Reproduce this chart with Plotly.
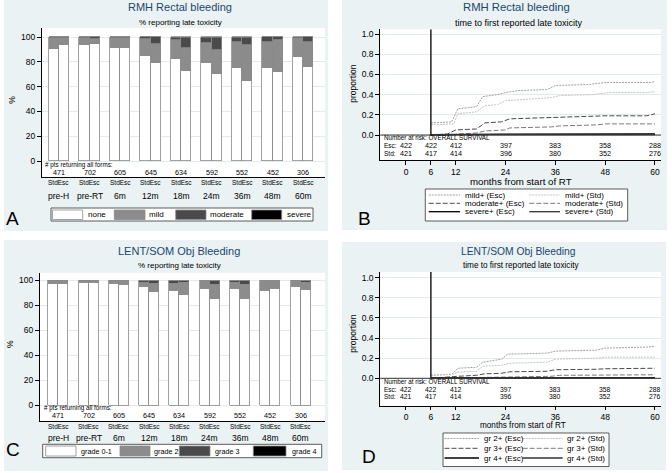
import plotly.graph_objects as go

W, H = 672, 473
FONT = "Liberation Sans, Arial, sans-serif"
NAVY = "#1a476f"
PANEL_BG = "#eaf2f3"
GRID = "#e2eaed"
OUTLINE = "#8a8a8a"

# ---------------- data ----------------
groups = ["pre-H", "pre-RT", "6m", "12m", "18m", "24m", "36m", "48m", "60m"]
n_forms = [471, 702, 605, 645, 634, 592, 552, 452, 306]

# Panel A: RMH rectal bleeding (% of patients), Std arm / Esc arm
rmh_std_none = [90.5, 93.3, 91.2, 84.5, 82.4, 79.3, 74.7, 74.7, 83.6]
rmh_std_mild = [8.5, 5.8, 8.3, 13.9, 14.9, 16.1, 21.5, 21.5, 15.3]
rmh_std_moderate = [1.0, 0.9, 0.5, 1.6, 2.0, 4.1, 3.3, 3.8, 0.6]
rmh_std_severe = [0.0, 0.0, 0.0, 0.0, 0.7, 0.5, 0.5, 0.0, 0.5]
rmh_esc_none = [93.3, 94.7, 91.2, 78.7, 72.5, 70.4, 64.8, 71.5, 76.0]
rmh_esc_mild = [5.7, 3.8, 8.3, 16.0, 18.4, 19.1, 28.7, 26.1, 20.2]
rmh_esc_moderate = [1.0, 1.5, 0.5, 5.3, 8.1, 9.5, 5.7, 2.4, 3.8]
rmh_esc_severe = [0.0, 0.0, 0.0, 0.0, 1.0, 1.0, 0.8, 0.0, 0.0]

# Panel C: LENT/SOM objective bleeding
ls_std_g01 = [97.6, 98.1, 97.3, 94.9, 91.7, 93.6, 93.6, 91.7, 94.9]
ls_std_g2 = [2.4, 1.9, 2.7, 3.2, 5.9, 6.4, 4.5, 8.3, 5.1]
ls_std_g3 = [0.0, 0.0, 0.0, 1.9, 2.4, 0.0, 1.9, 0.0, 0.0]
ls_std_g4 = [0.0, 0.0, 0.0, 0.0, 0.0, 0.0, 0.0, 0.0, 0.0]
ls_esc_g01 = [97.6, 98.1, 96.5, 90.9, 88.2, 85.6, 85.6, 93.6, 92.8]
ls_esc_g2 = [2.4, 1.9, 3.0, 6.7, 9.9, 10.6, 10.6, 6.4, 5.3]
ls_esc_g3 = [0.0, 0.0, 0.5, 2.4, 1.9, 3.8, 3.8, 0.0, 1.9]
ls_esc_g4 = [0.0, 0.0, 0.0, 0.0, 0.0, 0.0, 0.0, 0.0, 0.0]

# Panel B: cumulative proportion, RMH rectal bleeding
b_mild_esc_t = [6, 11, 12.5, 17, 18.5, 22, 24, 27, 34, 36, 44, 48, 59, 60]
b_mild_esc_v = [0.12, 0.13, 0.26, 0.28, 0.38, 0.40, 0.42, 0.44, 0.45, 0.49, 0.50, 0.52, 0.52, 0.53]
b_mild_std_t = [6, 11.5, 12.5, 17, 19, 22, 24, 30, 35, 37, 45, 49, 58, 60]
b_mild_std_v = [0.10, 0.11, 0.21, 0.23, 0.29, 0.30, 0.34, 0.36, 0.37, 0.39, 0.40, 0.42, 0.42, 0.43]
b_mod_esc_t = [6, 10, 12, 17, 19, 23, 25, 33, 36, 48, 58, 60]
b_mod_esc_v = [0.0, 0.01, 0.05, 0.06, 0.12, 0.13, 0.16, 0.17, 0.18, 0.19, 0.19, 0.21]
b_mod_std_t = [6, 11, 12.5, 17, 19, 24, 25, 35, 37, 46, 48, 60]
b_mod_std_v = [0.0, 0.0, 0.01, 0.02, 0.04, 0.05, 0.07, 0.08, 0.09, 0.10, 0.11, 0.11]
b_sev_esc_t = [6, 24, 60]
b_sev_esc_v = [0.003, 0.008, 0.010]
b_sev_std_t = [6, 60]
b_sev_std_v = [0.003, 0.005]

# Panel D: cumulative proportion, LENT/SOM objective bleeding
d_g2_esc_t = [6, 11, 12.5, 17, 18.5, 23, 24.5, 34, 36, 46, 48, 58, 60]
d_g2_esc_v = [0.03, 0.04, 0.10, 0.11, 0.16, 0.19, 0.24, 0.25, 0.27, 0.28, 0.30, 0.31, 0.32]
d_g2_std_t = [6, 11, 12.5, 17, 18.5, 23, 25, 34, 36, 46, 48, 60]
d_g2_std_v = [0.03, 0.04, 0.06, 0.07, 0.12, 0.13, 0.15, 0.16, 0.19, 0.20, 0.21, 0.21]
d_g3_esc_t = [6, 11, 12.5, 17, 19, 23, 25, 34, 36, 46, 48, 60]
d_g3_esc_v = [0.0, 0.01, 0.02, 0.03, 0.045, 0.05, 0.065, 0.07, 0.085, 0.09, 0.095, 0.10]
d_g3_std_t = [6, 12, 18, 24, 35, 37, 48, 60]
d_g3_std_v = [0.0, 0.005, 0.01, 0.015, 0.02, 0.03, 0.035, 0.035]
d_g4_esc_t = [6, 60]
d_g4_esc_v = [0.003, 0.006]
d_g4_std_t = [6, 60]
d_g4_std_v = [0.003, 0.004]

risk_times = [0, 6, 12, 24, 36, 48, 60]
risk_esc = [422, 422, 412, 397, 383, 358, 288]
risk_std = [421, 417, 414, 396, 380, 352, 276]
time_ticks = [0, 6, 12, 24, 36, 48, 60]

# ---------------- helpers ----------------
def fx(p):
    return p / W


def fy(p):
    return 1 - p / H


fig = go.Figure()
shapes = []

BAR_W = 0.33
OFF = 0.165
idx = list(range(len(groups)))
bar_x = [i - OFF for i in idx] + [i + OFF for i in idx]


def add_bars(xa, ya, std_levels, esc_levels, colors, names):
    for s, e, c, n in zip(std_levels, esc_levels, colors, names):
        fig.add_trace(go.Bar(
            x=bar_x, y=list(s) + list(e), width=BAR_W, name=n,
            marker=dict(color=c, line=dict(color=OUTLINE, width=0.8)),
            xaxis=xa, yaxis=ya, showlegend=False))


def add_line(xa, ya, t, v, color, dash, width=1.0):
    fig.add_trace(go.Scatter(
        x=t, y=v, mode="lines", line=dict(color=color, dash=dash, width=width),
        xaxis=xa, yaxis=ya, showlegend=False))


def ann(text, x, y, size, xref="paper", yref="paper", xanchor="center",
        yanchor="middle", color="#000", angle=0):
    fig.add_annotation(text=text, x=x, y=y, xref=xref, yref=yref,
                       xanchor=xanchor, yanchor=yanchor, showarrow=False,
                       textangle=angle, borderpad=0,
                       font=dict(size=size, color=color, family=FONT))


def rect(x0, y0, x1, y1, fill, line_color=None, lw=0):
    shapes.append(dict(type="rect", xref="paper", yref="paper",
                       x0=fx(x0), x1=fx(x1), y0=fy(y1), y1=fy(y0),
                       fillcolor=fill, layer="below",
                       line=dict(color=line_color or fill, width=lw)))


def hline(x0, x1, y, color, dash, width=1.0):
    shapes.append(dict(type="line", xref="paper", yref="paper",
                       x0=fx(x0), x1=fx(x1), y0=fy(y), y1=fy(y),
                       line=dict(color=color, dash=dash, width=width)))


# panel backgrounds and plot areas
rect(4, 0, 328, 231, PANEL_BG)
rect(342, 0, 667, 230, PANEL_BG)
rect(4, 240, 328, 471, PANEL_BG)
rect(342, 242, 666, 470, PANEL_BG)
rect(42, 28, 325, 177, "white")
rect(380.3, 29.3, 661, 160, "white")
rect(40, 272.7, 325, 421, "white")
rect(380.3, 272, 661, 406, "white")

# ---------------- bars ----------------
bar_colors = ["#ffffff", "#8c8c8c", "#4a4a4a", "#000000"]
add_bars("x", "y",
         [rmh_std_none, rmh_std_mild, rmh_std_moderate, rmh_std_severe],
         [rmh_esc_none, rmh_esc_mild, rmh_esc_moderate, rmh_esc_severe],
         bar_colors, ["none", "mild", "moderate", "severe"])
add_bars("x3", "y3",
         [ls_std_g01, ls_std_g2, ls_std_g3, ls_std_g4],
         [ls_esc_g01, ls_esc_g2, ls_esc_g3, ls_esc_g4],
         bar_colors, ["grade 0-1", "grade 2", "grade 3", "grade 4"])

# ---------------- lines ----------------
styles = [
    ("#a0a0a0", "2px,1px"), ("#c4c4c4", "2px,1px"),
    ("#4a4a4a", "5px,2px"), ("#7a7a7a", "5px,2px"),
    ("#000000", "solid"), ("#333333", "solid"),
]
b_series = [(b_mild_esc_t, b_mild_esc_v), (b_mild_std_t, b_mild_std_v),
            (b_mod_esc_t, b_mod_esc_v), (b_mod_std_t, b_mod_std_v),
            (b_sev_esc_t, b_sev_esc_v), (b_sev_std_t, b_sev_std_v)]
d_series = [(d_g2_esc_t, d_g2_esc_v), (d_g2_std_t, d_g2_std_v),
            (d_g3_esc_t, d_g3_esc_v), (d_g3_std_t, d_g3_std_v),
            (d_g4_esc_t, d_g4_esc_v), (d_g4_std_t, d_g4_std_v)]
for (t, v), (c, d) in zip(b_series, styles):
    add_line("x2", "y2", t, v, c, d, 1.3 if d == "solid" else 1.0)
for (t, v), (c, d) in zip(d_series, styles):
    add_line("x4", "y4", t, v, c, d, 1.3 if d == "solid" else 1.0)

# baseline and start-of-follow-up line
for xa, ya, top in (("x2", "y2", 1.0465), ("x4", "y4", 1.056)):
    shapes.append(dict(type="line", xref=xa + " domain", yref=ya, x0=0, x1=1,
                       y0=0, y1=0, line=dict(color="#333", width=1)))
    shapes.append(dict(type="line", xref=xa, yref=ya, x0=6, x1=6, y0=0, y1=top,
                       line=dict(color="#111", width=1.4)))

# ---------------- axes ----------------
def bar_yaxis(dom, rng):
    return dict(domain=dom, range=rng, tickvals=[0, 20, 40, 60, 80, 100],
                ticks="outside", ticklen=4, tickcolor="#000", showline=True,
                linecolor="#000", linewidth=1, showgrid=True, gridcolor=GRID,
                zeroline=False, tickfont=dict(size=8.5, color="#000", family=FONT),
                fixedrange=True)


def bar_xaxis(dom, rng, anchor):
    return dict(domain=dom, range=rng, showticklabels=False, ticks="",
                showline=True, linecolor="#000", linewidth=1, showgrid=False,
                zeroline=False, anchor=anchor, fixedrange=True)


def km_yaxis(dom, rng, anchor):
    return dict(domain=dom, range=rng, tickvals=[0, 0.2, 0.4, 0.6, 0.8, 1.0],
                tickformat=".1f", ticks="outside", ticklen=4, tickcolor="#000",
                showline=True, linecolor="#000", linewidth=1, showgrid=True,
                gridcolor=GRID, zeroline=False, anchor=anchor,
                tickfont=dict(size=8.5, color="#000", family=FONT), fixedrange=True)


def km_xaxis(dom, rng, anchor, ticklen=4):
    return dict(domain=dom, range=rng, tickvals=time_ticks, ticks="outside",
                ticklen=ticklen, tickcolor="#000", showline=True, linecolor="#000",
                linewidth=1, showgrid=False, zeroline=False, anchor=anchor,
                tickfont=dict(size=8.5, color="#000", family=FONT), fixedrange=True)


fig.update_layout(
    xaxis=bar_xaxis([fx(42), fx(325)], [-0.557, 8.72], "y"),
    yaxis=bar_yaxis([fy(177), fy(28)], [-12.9, 107.3]),
    xaxis2=km_xaxis([fx(380.3), fx(661)], [-6.19, 61.45], "y2"),
    yaxis2=km_yaxis([fy(160), fy(29.3)], [-0.2475, 1.0465], "x2"),
    xaxis3=bar_xaxis([fx(40), fx(325)], [-0.6, 8.8], "y3"),
    yaxis3=dict(bar_yaxis([fy(421), fy(272.7)], [-12.56, 106.1]), anchor="x3"),
    xaxis4=km_xaxis([fx(380.3), fx(661)], [-6.19, 61.45], "y4", ticklen=3),
    yaxis4=km_yaxis([fy(406), fy(272)], [-0.275, 1.056], "x4"),
)

# ---------------- bar panel texts ----------------
def bar_panel_text(xa, y_pts, y_nums, y_se, y_grp, x_pts):
    ann("# pts returning all forms:", fx(x_pts), fy(y_pts), 6.3, xanchor="left")
    for i, (g, n) in enumerate(zip(groups, n_forms)):
        ann(str(n), i, fy(y_nums), 7.2, xref=xa)
        ann("StdEsc", i, fy(y_se), 6.5, xref=xa)
        ann(g, i, fy(y_grp), 8.5, xref=xa)


bar_panel_text("x", 164.5, 172, 183, 195.5, 44)
bar_panel_text("x3", 408.3, 415, 426.7, 437.5, 42.5)

# titles
ann("RMH Rectal bleeding", fx(180), fy(7.5), 11, color=NAVY)
ann("% reporting late toxicity", fx(180), fy(22.7), 8)
ann("RMH Rectal bleeding", fx(516), fy(7.5), 11.3, color=NAVY)
ann("time to first reported late toxicity", fx(519), fy(22.7), 9)
ann("LENT/SOM Obj Bleeding", fx(179), fy(251), 11, color=NAVY)
ann("% reporting late toxicity", fx(179), fy(265.3), 8)
ann("LENT/SOM Obj Bleeding", fx(518), fy(251), 10.3, color=NAVY)
ann("time to first reported late toxicity", fx(521), fy(265.3), 8.2)

# axis titles
ann("%", fx(11.7), fy(100), 8.5, angle=-90)
ann("%", fx(10), fy(344), 8.5, angle=-90)
ann("proportion", fx(352.7), fy(83), 8.5, angle=-90)
ann("proportion", fx(352.7), fy(333), 8.5, angle=-90)
ann("months from start of RT", fx(521), fy(181.7), 9.7)
ann("months from start of RT", fx(522.7), fy(425.5), 8.2)

# panel letters
ann("A", fx(12), fy(218), 19)
ann("B", fx(364), fy(218), 19)
ann("C", fx(13.3), fy(449.3), 19)
ann("D", fx(369.3), fy(456), 19)

# number-at-risk tables
def risk_table(xa, y_head, y_esc, y_std, num_size):
    ann("Number at risk: OVERALL SURVIVAL", fx(382.7), fy(y_head), 6.3, xanchor="left")
    ann("Esc:", fx(382.7), fy(y_esc), 6.5, xanchor="left")
    ann("Std:", fx(382.7), fy(y_std), 6.5, xanchor="left")
    for t, e, s in zip(risk_times, risk_esc, risk_std):
        ann(str(e), t, fy(y_esc), num_size, xref=xa)
        ann(str(s), t, fy(y_std), num_size, xref=xa)


risk_table("x2", 137.7, 146, 153.7, 7.2)
risk_table("x4", 381.7, 389.3, 396.3, 6.8)

# ---------------- legends ----------------
# A
rect(51, 208, 313, 221, "white", "#333", 0.8)
for (x0, x1, tx, lab), col in zip(
        [(52.5, 82.7, 87.3, "none"), (114.3, 145, 148.3, "mild"),
         (175.7, 206, 209.3, "moderate"), (251.7, 281.7, 286, "severe")], bar_colors):
    rect(x0, 210, x1, 219.5, col, OUTLINE, 0.8)
    ann(lab, fx(tx), fy(214.8), 8, xanchor="left")
# C
rect(42.7, 444.3, 321.7, 457.7, "white", "#333", 0.8)
for (x0, x1, tx, lab), col in zip(
        [(45.7, 76, 80, "grade 0-1"), (120, 150, 153.3, "grade 2"),
         (179.3, 210, 214, "grade 3"), (253.3, 286, 290.7, "grade 4")], bar_colors):
    rect(x0, 446, x1, 456, col, OUTLINE, 0.8)
    ann(lab, fx(tx), fy(451), 7.2, xanchor="left")

# B
rect(425.3, 189, 627.7, 221, "white", "#333", 0.8)
b_labels = ["mild+ (Esc)", "mild+ (Std)", "moderate+ (Esc)", "moderate+ (Std)",
            "severe+ (Esc)", "severe+ (Std)"]
rows_b = [195, 203.3, 211.7]
for k, (lab, (c, d)) in enumerate(zip(b_labels, styles)):
    r, col = divmod(k, 2)
    lx0, lx1, tx = ((428.7, 460, 464.3) if col == 0 else (529.3, 560, 564.3))
    hline(lx0, lx1, rows_b[r], c, d, 1.3 if d == "solid" else 1.0)
    ann(lab, fx(tx), fy(rows_b[r]), 8, xanchor="left")

# D
rect(443, 433, 609, 466.5, "white", "#333", 0.8)
d_labels = ["gr 2+ (Esc)", "gr 2+ (Std)", "gr 3+ (Esc)", "gr 3+ (Std)",
            "gr 4+ (Esc)", "gr 4+ (Std)"]
rows_d = [438.5, 448.3, 458]
for k, (lab, (c, d)) in enumerate(zip(d_labels, styles)):
    r, col = divmod(k, 2)
    lx0, lx1, tx = ((444.5, 479, 482.7) if col == 0 else (522.7, 562.7, 566))
    hline(lx0, lx1, rows_d[r], c, d, 1.3 if d == "solid" else 1.0)
    ann(lab, fx(tx), fy(rows_d[r]), 8, xanchor="left")

fig.update_layout(
    width=W, height=H, margin=dict(l=0, r=0, t=0, b=0),
    paper_bgcolor="white", plot_bgcolor="rgba(0,0,0,0)",
    barmode="stack", bargap=0, showlegend=False, shapes=shapes,
    font=dict(family=FONT, color="#000"),
)

# remove the browser's default 8px page margin so the figure sits at the window origin
fig.write_html("out.html", config={"displayModeBar": False},
               post_script="document.body.style.margin='0px';")
